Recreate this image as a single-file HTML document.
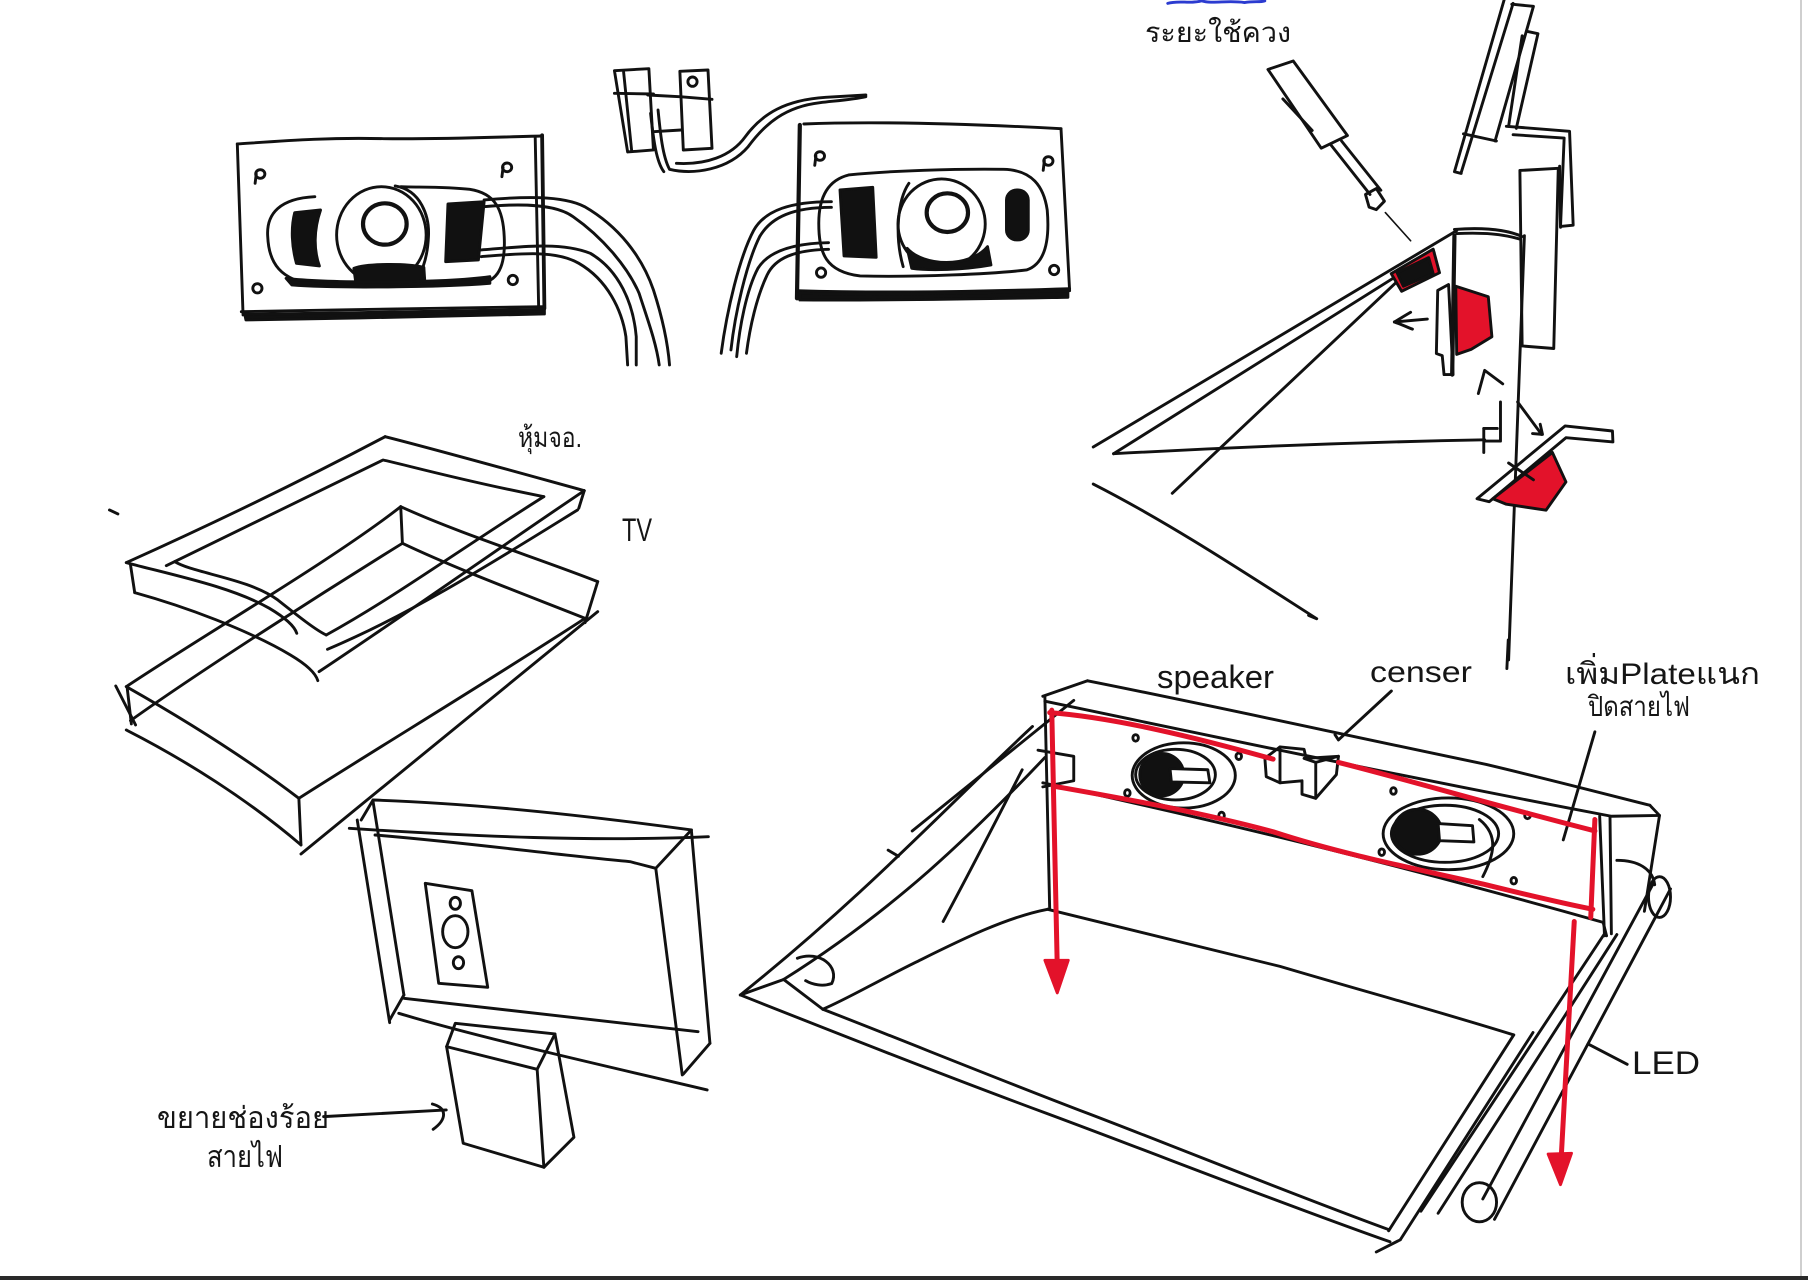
<!DOCTYPE html>
<html><head><meta charset="utf-8"><style>
html,body{margin:0;padding:0;background:#fff;}
svg{display:block;}
path,ellipse,rect{vector-effect:non-scaling-stroke;}
.k{stroke:#111;stroke-width:2.9;fill:none;stroke-linecap:round;stroke-linejoin:round;}
.t{font-family:"Liberation Sans","Noto Sans CJK SC",sans-serif;fill:#151515;}
</style></head><body>
<svg width="1808" height="1280" viewBox="0 0 1808 1280" xmlns="http://www.w3.org/2000/svg">
<rect x="0" y="0" width="1808" height="1280" fill="#fff"/>

<!-- ========== TOP SPEAKERS (zoom2 frame) ========== -->
<g class="k" transform="translate(200,50) scale(0.574,0.3333)">
  <!-- left plate -->
  <path d="M65,282 C150,272 220,262 320,266 C420,268 500,262 595,258"/>
  <path d="M65,282 L75,795"/>
  <path d="M584,262 L590,775"/>
  <path d="M596,256 L600,775" stroke-width="3.8"/>
  <path d="M72,785 C250,780 450,772 600,770"/>
  <path d="M78,793 C250,790 450,782 600,778 L600,792 C450,797 250,806 80,810 Z" fill="#111"/>
  <ellipse cx="105" cy="372" rx="8" ry="13"/><path d="M98,372 L96,400"/>
  <ellipse cx="535" cy="352" rx="8" ry="13"/><path d="M528,352 L526,380"/>
  <ellipse cx="100" cy="715" rx="8" ry="14"/>
  <ellipse cx="545" cy="690" rx="8" ry="14"/>
  <!-- left body -->
  <path d="M200,440 C140,445 115,490 118,560 C120,640 140,690 200,705 C300,712 420,710 490,700 C525,690 532,630 530,560 C528,480 515,430 470,418 C430,410 380,412 350,410"/>
  <ellipse cx="316" cy="555" rx="78" ry="145"/>
  <path d="M340,408 C385,420 400,500 398,560 C396,630 385,680 370,700"/>
  <ellipse cx="322" cy="522" rx="38" ry="62" stroke-width="4.2"/>
  <path d="M268,655 C290,640 360,640 390,652 L392,705 C350,712 300,712 272,705 Z" fill="#111"/>
  <path d="M150,685 C220,700 420,700 505,680 L505,700 C420,712 230,715 160,705 Z" fill="#111"/>
  <path d="M165,488 L210,480 C198,540 198,600 208,648 L168,640 C160,590 158,535 165,488 Z" fill="#111"/>
  <path d="M432,462 L495,455 L485,630 L428,635 Z" fill="#111"/>
  <!-- left wires -->
  <path d="M495,450 C560,440 630,435 670,470 C730,530 770,620 790,720 C805,800 815,880 818,945"/>
  <path d="M495,470 C560,460 620,462 650,500 C700,560 745,650 765,730 C780,810 795,880 800,945"/>
  <path d="M490,600 C560,590 630,575 680,610 C730,660 755,760 760,860 L760,945"/>
  <path d="M490,620 C560,610 620,600 660,640 C710,690 735,780 742,860 L745,945"/>
  <!-- sensor -->
  <path d="M722,62 L782,56 L790,300 L745,306 Z"/>
  <path d="M738,66 L752,302"/>
  <path d="M722,130 L790,132"/>
  <path d="M836,64 L885,60 L892,295 L842,300 Z"/>
  <path d="M836,140 L892,148"/>
  <path d="M790,245 L838,240"/>
  <ellipse cx="858" cy="95" rx="8" ry="14"/>
  <path d="M780,135 L835,140"/>
  <path d="M798,180 C802,250 806,320 818,358 C860,375 920,360 955,290 C985,220 1020,170 1080,158 C1110,152 1140,148 1160,140"/>
  <path d="M785,190 C790,270 795,335 808,365"/>
  <path d="M830,340 C880,345 925,320 950,260 C980,190 1020,150 1090,142 L1160,135"/>
  <!-- right plate -->
  <path d="M1045,225 L1040,745" stroke-width="4.2"/>
  <path d="M1052,222 C1150,215 1300,218 1500,236"/>
  <path d="M1500,236 L1515,722"/>
  <path d="M1040,722 C1200,730 1350,725 1515,716"/>
  <path d="M1045,730 C1200,736 1380,728 1512,722 L1512,742 C1380,746 1200,752 1045,750 Z" fill="#111"/>
  <ellipse cx="1080" cy="318" rx="8" ry="13"/><path d="M1073,318 L1071,346"/>
  <ellipse cx="1478" cy="333" rx="8" ry="13"/><path d="M1471,333 L1469,361"/>
  <ellipse cx="1082" cy="668" rx="8" ry="14"/>
  <ellipse cx="1488" cy="660" rx="8" ry="14"/>
  <path d="M1130,375 C1095,390 1078,440 1078,520 C1078,610 1090,665 1150,678 C1250,682 1380,672 1440,660 C1475,640 1480,560 1476,480 C1470,410 1450,360 1400,358 C1320,356 1200,362 1130,375"/>
  <ellipse cx="1292" cy="522" rx="76" ry="135"/>
  <path d="M1235,400 C1215,450 1210,560 1225,650"/>
  <ellipse cx="1302" cy="488" rx="36" ry="58" stroke-width="4.2"/>
  <path d="M1232,595 C1260,650 1340,655 1372,590 L1378,645 C1330,660 1270,662 1240,655 Z" fill="#111"/>
  <path d="M1115,420 L1172,412 L1178,622 L1122,618 Z" fill="#111"/>
  <rect x="1405" y="420" width="38" height="150" rx="18" ry="30" fill="#111"/>
  <path d="M1100,455 C1030,455 985,480 965,540 C940,620 918,780 908,910"/>
  <path d="M1100,472 C1035,472 995,500 975,560 C952,640 932,790 925,900"/>
  <path d="M1095,578 C1030,580 990,605 972,655 C952,720 940,830 935,920"/>
  <path d="M1095,598 C1035,600 1002,625 988,675 C970,740 958,830 952,910"/>
</g>

<!-- ========== TOP RIGHT (zoom1 frame) ========== -->
<g class="k" transform="translate(1100,0) scale(0.4515,0.4209)">
  <path d="M150,8 C175,0 200,10 225,2 C250,10 280,0 320,6 C340,2 355,6 365,2" stroke="#2b3bd0"/>
  <!-- screwdriver -->
  <path d="M372,165 L428,145 L548,322 L490,352 Z"/>
  <path d="M405,235 L470,310"/>
  <path d="M512,345 L598,462"/>
  <path d="M535,335 L622,452"/>
  <path d="M588,462 L612,448 L630,478 L612,498 L596,492 Z"/>
  <path d="M632,505 L688,572" stroke-width="1.6"/>
  <!-- tall panel -->
  <path d="M895,0 L785,408 L800,412"/>
  <path d="M915,8 L800,410"/>
  <path d="M912,10 L960,15 L875,335"/>
  <path d="M805,318 L878,335"/>
  <path d="M948,75 L970,80 L922,305"/>
  <path d="M935,85 L905,300"/>
  <path d="M900,300 L1040,312 L1048,535 L1020,538 L1028,328 L915,320"/>
  <path d="M930,405 L1015,400 L1005,828 L935,822 L930,405"/>
  <path d="M1018,395 L1020,540"/>
  <path d="M940,560 L905,1568"/>
  <!-- hood -->
  <path d="M785,545 C850,540 900,545 935,562"/>
  <path d="M790,555 C850,552 890,556 930,568"/>
  <path d="M-15,1062 L790,548"/>
  <path d="M30,1078 L740,600"/>
  <path d="M160,1172 L655,672"/>
  <path d="M30,1078 C300,1062 600,1050 852,1045"/>
  <path d="M-15,1150 C150,1240 320,1360 480,1470 L462,1462"/>
  <path d="M887,955 L887,1048 L852,1048"/>
  <path d="M850,1018 L850,1075"/>
  <path d="M850,1018 L880,1018"/>
  <!-- red box on hood -->
  <path d="M645,650 L738,592 L752,648 L668,692 Z" fill="#e3122a"/>
  <path d="M658,648 L728,612 L738,650 L672,680 Z" fill="#111"/>
  <!-- hanging plate -->
  <path d="M748,690 L772,676 L782,890 L762,890 L758,845 L745,840 Z"/>
  <path d="M785,560 L780,890" stroke-width="4.2"/>
  <path d="M788,680 L860,705 L868,800 L822,830 L790,842 Z" fill="#e3122a"/>
  <!-- arrows -->
  <path d="M652,765 L725,758"/>
  <path d="M688,742 C672,752 660,760 652,765 C665,770 678,776 692,782"/>
  <path d="M838,935 L852,880 L892,912"/>
  <path d="M925,955 L978,1032"/>
  <path d="M958,1030 L980,1032 L975,1008"/>
  <!-- bottom bracket -->
  <path d="M835,1185 L1030,1012 L1135,1024 L1136,1050 L1032,1040 L862,1192 Z"/>
  <path d="M870,1185 L1002,1075 L1032,1145 L988,1212 L900,1198 Z" fill="#e3122a"/>
  <path d="M905,1100 L960,1140"/>
</g>

<!-- ========== BOTTOM RIGHT BOX (zoom3 frame) ========== -->
<g class="k" transform="translate(730,640) scale(0.6875,0.408)">
  <path d="M1132,0 L1130,70"/>
  <!-- beam -->
  <path d="M455,138 L520,100"/>
  <path d="M520,100 C700,160 900,235 1100,305 C1200,345 1290,385 1338,405"/>
  <path d="M458,150 C700,235 950,325 1282,432 L1352,430 L1338,405"/>
  <path d="M455,350 C700,440 950,540 1270,692 L1275,725"/>
  <path d="M458,138 L465,660"/>
  <path d="M448,270 L500,285 L500,345 L455,360"/>
  <path d="M1265,432 L1272,725"/>
  <path d="M1280,432 L1282,720"/>
  <path d="M1352,430 L1330,665"/>
  <!-- speakers -->
  <ellipse cx="660" cy="332" rx="75" ry="80"/>
  <ellipse cx="648" cy="330" rx="58" ry="62"/>
  <ellipse cx="628" cy="330" rx="32" ry="52" fill="#111"/>
  <path d="M640,315 L695,318 L698,350 L642,348 Z" fill="#fff"/>
  <ellipse cx="1045" cy="475" rx="95" ry="88"/>
  <ellipse cx="1040" cy="475" rx="78" ry="70"/>
  <ellipse cx="1000" cy="470" rx="35" ry="55" fill="#111"/>
  <path d="M1030,450 L1080,455 L1082,495 L1032,492 Z" fill="#fff"/>
  <path d="M1090,440 C1120,480 1110,530 1095,580"/>
  <ellipse cx="590" cy="240" rx="4" ry="8"/>
  <ellipse cx="740" cy="285" rx="4" ry="8"/>
  <ellipse cx="578" cy="375" rx="4" ry="8"/>
  <ellipse cx="715" cy="430" rx="4" ry="8"/>
  <ellipse cx="965" cy="370" rx="4" ry="8"/>
  <ellipse cx="1160" cy="430" rx="4" ry="8"/>
  <ellipse cx="948" cy="520" rx="4" ry="8"/>
  <ellipse cx="1140" cy="590" rx="4" ry="8"/>
  <!-- sensor -->
  <path d="M778,290 L800,262 L835,268 L838,290 L885,285 L882,330 L852,388 L832,378 L832,345 L800,350 L780,335 Z"/>
  <path d="M800,262 L800,350"/>
  <path d="M835,290 L852,300 L852,388"/>
  <path d="M852,300 L885,285"/>
  <!-- left side -->
  <path d="M440,212 C320,400 200,620 15,870"/>
  <path d="M458,288 C350,480 240,660 78,832"/>
  <path d="M500,148 L265,468"/>
  <path d="M425,318 C385,450 345,580 310,690"/>
  <path d="M15,870 L78,832"/>
  <path d="M78,832 L135,905"/>
  <path d="M98,780 C130,760 160,800 148,842 C135,850 120,845 110,835"/>
  <path d="M230,515 L245,530"/>
  <!-- floor -->
  <path d="M462,660 C560,700 680,750 800,800 C920,860 1030,910 1140,968"/>
  <path d="M462,660 C400,680 330,740 270,790 C210,840 170,880 135,905"/>
  <path d="M15,870 C150,960 300,1060 460,1160 C620,1260 800,1380 960,1475"/>
  <path d="M135,905 C250,980 380,1070 520,1160 C660,1250 820,1360 958,1445"/>
  <path d="M1140,968 L958,1448"/>
  <path d="M1168,962 L975,1470"/>
  <path d="M940,1500 L975,1470"/>
  <!-- right LED tube -->
  <path d="M1290,540 C1320,540 1342,560 1345,600"/>
  <path d="M1342,600 L1095,1370"/>
  <path d="M1368,610 L1112,1420"/>
  <ellipse cx="1352" cy="630" rx="16" ry="50"/>
  <ellipse cx="1090" cy="1378" rx="25" ry="48"/>
  <path d="M1272,720 L1005,1400"/>
  <path d="M1290,722 L1030,1405"/>
  <!-- pointers -->
  <path d="M1248,990 L1305,1040"/>
  <path d="M962,125 L885,245 L880,232"/>
  <path d="M1258,225 L1212,490"/>
  <!-- red -->
  <g stroke="#e3122a" stroke-width="5">
    <path d="M465,178 C560,190 680,240 790,292"/>
    <path d="M885,300 C980,340 1100,400 1258,468"/>
    <path d="M1258,440 L1252,680"/>
    <path d="M1228,690 L1208,1300"/>
    <path d="M470,358 C560,385 680,420 790,470 C880,520 980,555 1100,600 C1160,625 1210,645 1255,660"/>
    <path d="M468,172 L476,800"/>
  </g>
  <path d="M458,785 L476,865 L492,785 Z" fill="#e3122a" stroke="#e3122a"/>
  <path d="M1190,1260 L1208,1335 L1224,1258 Z" fill="#e3122a" stroke="#e3122a"/>
</g>

<!-- ========== TV EXPLODED (zoom4 frame) ========== -->
<g class="k" transform="translate(80,400) scale(0.4209,0.3333)">
  <path d="M110,488 C300,380 500,260 725,110"/>
  <path d="M725,110 C850,150 1020,210 1198,272"/>
  <path d="M1198,272 L1185,325"/>
  <path d="M1198,272 C1000,440 800,620 568,815"/>
  <path d="M1182,330 C990,480 790,640 588,748"/>
  <path d="M110,488 C220,525 360,560 450,625 C490,655 510,680 515,700"/>
  <path d="M120,495 L130,578"/>
  <path d="M130,578 C250,620 400,690 500,765 C540,795 560,820 565,842"/>
  <path d="M205,497 L720,180 C760,190 900,240 1102,290"/>
  <path d="M1102,290 C900,450 750,590 585,705"/>
  <path d="M225,485 C270,520 400,535 470,600 C520,650 560,690 585,705"/>
  <path d="M762,320 L766,430"/>
  <path d="M762,320 C600,480 300,700 110,860"/>
  <path d="M762,320 C900,400 1100,480 1230,545"/>
  <path d="M766,430 C600,560 300,800 120,962"/>
  <path d="M766,430 C900,510 1050,580 1200,655"/>
  <path d="M1230,545 L1200,668"/>
  <path d="M1230,635 L525,1362"/>
  <path d="M1200,655 C1000,820 700,1050 520,1195"/>
  <path d="M110,860 C250,960 400,1080 520,1195"/>
  <path d="M520,1195 L525,1335"/>
  <path d="M110,990 C250,1080 400,1200 525,1335"/>
  <path d="M85,858 L132,975"/>
  <path d="M112,862 L122,972"/>
  <path d="M70,330 L90,342"/>
</g>

<!-- ========== MONITOR (zoom5 frame) ========== -->
<g class="k" transform="translate(120,780) scale(0.3954,0.3333)">
  <path d="M640,60 C900,70 1200,110 1445,150"/>
  <path d="M580,145 C900,170 1200,185 1488,170"/>
  <path d="M640,60 L610,120"/>
  <path d="M600,120 L682,728"/>
  <path d="M640,65 L718,645"/>
  <path d="M645,165 C900,190 1100,225 1290,245 L1355,265"/>
  <path d="M1355,265 L1445,150"/>
  <path d="M1445,150 L1492,790"/>
  <path d="M1355,265 L1422,885"/>
  <path d="M1492,790 L1425,882"/>
  <path d="M718,655 C900,680 1200,720 1462,755"/>
  <path d="M705,700 C900,770 1200,850 1485,930"/>
  <path d="M718,645 L682,720"/>
  <path d="M848,730 L1100,762 L1148,1072 L1072,1162 L868,1090 L826,800 Z"/>
  <path d="M826,800 L1055,868 L1100,762"/>
  <path d="M1055,868 L1072,1162"/>
  <path d="M772,310 L890,332 L930,622 L806,610 Z"/>
  <ellipse cx="848" cy="370" rx="13" ry="18"/>
  <ellipse cx="848" cy="455" rx="32" ry="48"/>
  <ellipse cx="856" cy="548" rx="13" ry="18"/>
  <path d="M515,1010 L825,990"/>
  <path d="M790,972 C830,985 825,1020 792,1048"/>
</g>

<!-- ========== TEXT LABELS ========== -->
<text class="t" x="1145" y="42" font-size="28" textLength="146" lengthAdjust="spacingAndGlyphs">ระยะใช้ควง</text>
<text class="t" x="518" y="447" font-size="28" textLength="64" lengthAdjust="spacingAndGlyphs">หุ้มจอ.</text>
<text class="t" x="622" y="541" font-size="32" textLength="30" lengthAdjust="spacingAndGlyphs">TV</text>
<text class="t" x="1157" y="688" font-size="32" textLength="117" lengthAdjust="spacingAndGlyphs">speaker</text>
<text class="t" x="1370" y="682" font-size="30" textLength="102" lengthAdjust="spacingAndGlyphs">censer</text>
<text class="t" x="1565" y="684" font-size="30" textLength="195" lengthAdjust="spacingAndGlyphs">เพิ่มPlateแนก</text>
<text class="t" x="1588" y="716" font-size="28" textLength="102" lengthAdjust="spacingAndGlyphs">ปิดสายไฟ</text>
<text class="t" x="1632" y="1074" font-size="32" textLength="68" lengthAdjust="spacingAndGlyphs">LED</text>
<text class="t" x="157" y="1128" font-size="30" textLength="172" lengthAdjust="spacingAndGlyphs">ขยายช่องร้อย</text>
<text class="t" x="207" y="1167" font-size="30" textLength="76" lengthAdjust="spacingAndGlyphs">สายไฟ</text>

<!-- scan edges -->
<rect x="1800" y="0" width="2" height="1276" fill="#cfcfcf"/>
<rect x="0" y="1276" width="1808" height="4" fill="#2a2a2a"/>
</svg>
</body></html>
